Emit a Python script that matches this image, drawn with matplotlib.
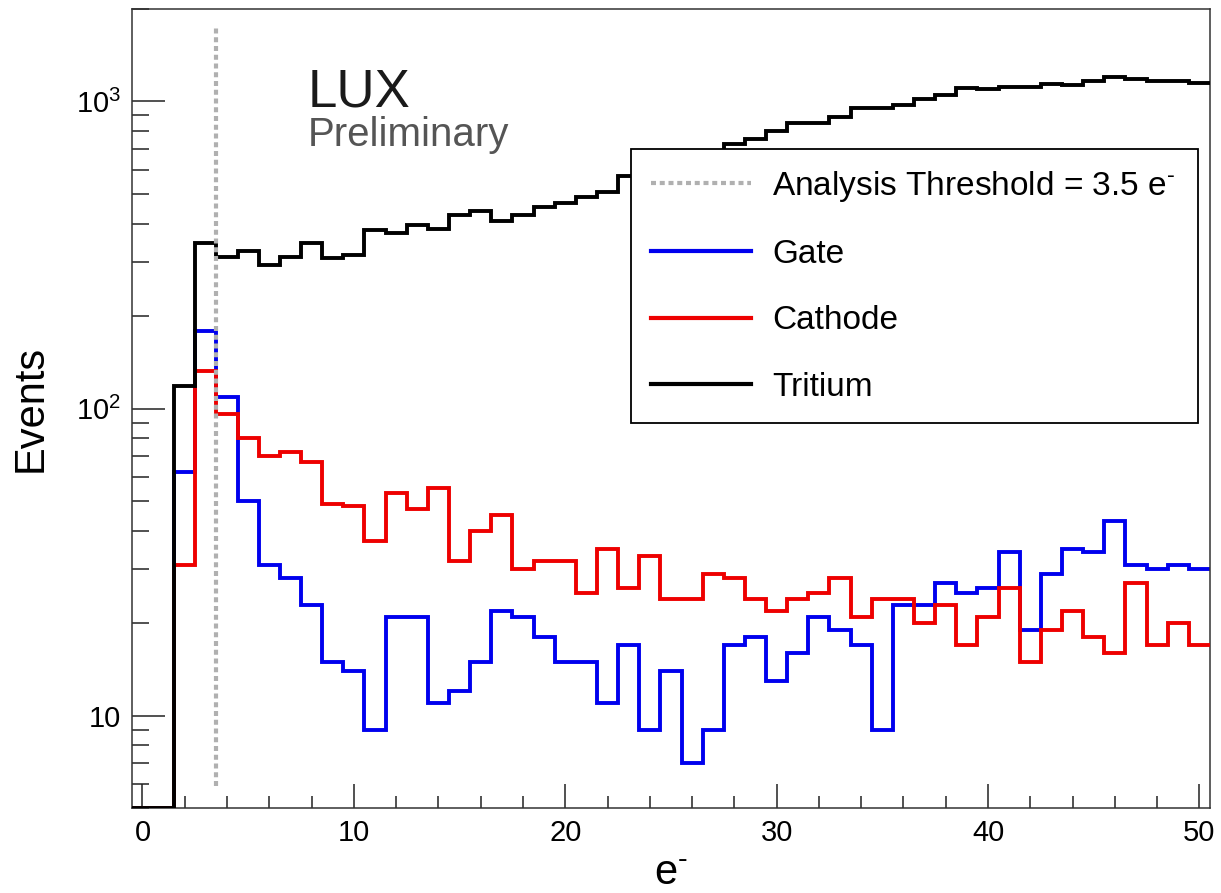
import numpy as np
import matplotlib
matplotlib.use("Agg")
import matplotlib.pyplot as plt
from matplotlib.ticker import FixedLocator, FixedFormatter, LogLocator, MultipleLocator, NullFormatter

plt.rcParams['font.family'] = ['Liberation Sans', 'DejaVu Sans']
plt.rcParams['mathtext.fontset'] = 'custom'
plt.rcParams['mathtext.rm'] = 'Liberation Sans'
plt.rcParams['mathtext.it'] = 'Liberation Sans:italic'

# bin edges: 1 electron wide bins centred on integers
edges = np.arange(-0.5, 51.0, 1.0)

# events per bin, bins 0..50
gate = [0, 0, 62, 179, 109, 50, 31, 28, 23, 15,
        14, 9, 21, 21, 11, 12, 15, 22, 21, 18,
        15, 15, 11, 17, 9, 14, 7, 9, 17, 18,
        13, 16, 21, 19, 17, 9, 23, 23, 27, 25,
        26, 34, 19, 29, 35, 34, 43, 31, 30, 31,
        30]
cathode = [0, 0, 31, 133, 96, 80, 70, 72, 67, 49,
           48, 37, 53, 47, 55, 32, 40, 45, 30, 32,
           32, 25, 35, 26, 33, 24, 24, 29, 28, 24,
           22, 24, 25, 28, 21, 24, 24, 20, 23, 17,
           21, 26, 15, 19, 22, 18, 16, 27, 17, 20,
           17]
tritium = [0, 0, 118, 347, 312, 326, 293, 312, 347, 308,
           316, 380, 374, 395, 383, 426, 439, 407, 426, 453,
           467, 488, 507, 571, 590, 615, 640, 680, 724, 757,
           798, 853, 853, 889, 954, 954, 975, 1021, 1046, 1108,
           1099, 1113, 1113, 1141, 1127, 1164, 1199, 1185, 1164, 1164,
           1150]

threshold = 3.5
ymin, ymax = 5, 2000

fig = plt.figure(figsize=(12.21, 8.93), dpi=100)
ax = fig.add_axes([0.108, 0.095, 0.883, 0.895])
ax.set_yscale('log')

def floor(v):
    # empty bins sit on the frame floor, as in ROOT
    v = np.asarray(v, dtype=float)
    return np.where(v > 0, v, ymin)

esup = r'e$^{\text{-}}$'

lw = 2.8
ax.stairs(floor(gate), edges, baseline=None, color='#0000ee', lw=lw, label='Gate', zorder=2)
ax.stairs(floor(cathode), edges, baseline=None, color='#ee0000', lw=lw, label='Cathode', zorder=3)
ax.stairs(floor(tritium), edges, baseline=None, color='black', lw=lw, label='Tritium', zorder=4)
ax.vlines(threshold, 5.9, 1750, colors='#b0b0b0', lw=3.0, linestyles=(0, (1.2, 0.9)),
          label='Analysis Threshold = 3.5 ' + esup, zorder=5)

ax.set_xlim(-0.5, 50.5)
ax.set_ylim(ymin, ymax)

# axis ticks
ax.xaxis.set_major_locator(MultipleLocator(10))
ax.xaxis.set_minor_locator(MultipleLocator(2))
ax.yaxis.set_major_locator(FixedLocator([10, 100, 1000]))
ax.yaxis.set_major_formatter(FixedFormatter(['10', r'10$^{\mathregular{2}}$', r'10$^{\mathregular{3}}$']))
ax.yaxis.set_minor_locator(LogLocator(base=10, subs=np.arange(2, 10)))
ax.yaxis.set_minor_formatter(NullFormatter())
ax.tick_params(which='both', direction='in', top=False, right=False, width=1.1, color='#222222',
               labelsize=21, pad=8)
ax.tick_params(axis='x', which='major', length=17)
ax.tick_params(axis='x', which='minor', length=9)
ax.tick_params(axis='y', which='major', length=24)
ax.tick_params(axis='y', which='minor', length=12)
for s in ax.spines.values():
    s.set_linewidth(1.1)
    s.set_color('#333333')

ax.set_ylabel('Events', fontsize=30)
ax.yaxis.set_label_coords(-0.075, 0.5)
ax.set_xlabel(esup, fontsize=30)
ax.xaxis.set_label_coords(0.5, -0.057)

ax.text(0.163, 0.878, 'LUX', transform=ax.transAxes, fontsize=38, color='#1a1a1a')
ax.text(0.163, 0.829, 'Preliminary', transform=ax.transAxes, fontsize=29, color='#555555')

handles, labels = ax.get_legend_handles_labels()
order = [3, 0, 1, 2]
leg = ax.legend([handles[i] for i in order], [labels[i] for i in order],
                loc='upper left', bbox_to_anchor=(0.463, 0.825, 0.526, 0.0), mode='expand',
                fontsize=24, frameon=True, fancybox=False, framealpha=1,
                edgecolor='black', borderpad=0.6, labelspacing=1.06,
                handlelength=3.0, handletextpad=0.63, borderaxespad=0)
leg.get_frame().set_linewidth(1.3)
for h in leg.legend_handles:
    h.set_linewidth(3.0)

fig.savefig('out.png', dpi=100)
